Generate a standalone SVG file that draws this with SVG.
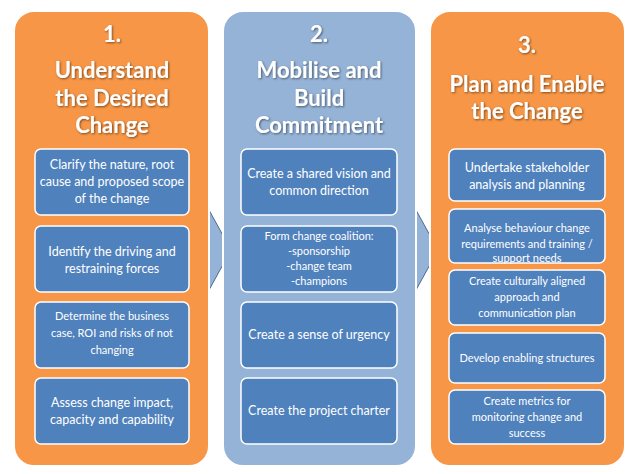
<svg xmlns="http://www.w3.org/2000/svg" width="639" height="474" viewBox="0 0 639 474">
<style>
.col1,.col3{fill:#f79646;stroke:#fff;stroke-width:2}
.col2{fill:#95b3d7;stroke:#fff;stroke-width:2}
.box{fill:#4f81bd;stroke:#fff;stroke-width:1.5}
.arrow{fill:#95b3d7;stroke:#4f6a8f;stroke-width:1}
.t{font-family:Lato,"Open Sans",sans-serif;font-weight:bold;font-size:22px;fill:#fff;text-anchor:middle}
.b{font-family:Lato,"Open Sans",sans-serif;font-size:12.5px;fill:#fff;text-anchor:middle}
.s{font-size:11px}
</style>
<defs><filter id="sh"><feDropShadow dx="1" dy="1" stdDeviation="0.8" flood-color="#000" flood-opacity="0.5"/></filter></defs>
<g id="connectors">
<polygon class="arrow" points="209,210 231,250 209,290"/>
<polygon class="arrow" points="416,210 438,250 416,290"/>
</g>
<g id="col1">
<rect class="col1" x="14" y="11" width="195" height="455" rx="20"/>
<g filter="url(#sh)"><text class="t" x="112" y="42">1.</text><text class="t" x="112" y="78">Understand</text><text class="t" x="112" y="106">the Desired</text><text class="t" x="112" y="133">Change</text></g>
</g>
<g id="col2">
<rect class="col2" x="223" y="11" width="193" height="455" rx="20"/>
<g filter="url(#sh)"><text class="t" x="319" y="42">2.</text><text class="t" x="319" y="78">Mobilise and</text><text class="t" x="319" y="106">Build</text><text class="t" x="319" y="133">Commitment</text></g>
</g>
<g id="col3">
<rect class="col3" x="430" y="11" width="195" height="455" rx="20"/>
<g filter="url(#sh)"><text class="t" x="527" y="53">3.</text><text class="t" x="527" y="92">Plan and Enable</text><text class="t" x="527" y="119">the Change</text></g>
</g>
<g id="c1b1"><rect class="box" x="35" y="149" width="154" height="66" rx="6"/><text class="b" x="112" y="169">Clarify the nature, root</text><text class="b" x="112" y="186">cause and proposed scope</text><text class="b" x="112" y="203">of the change</text></g>
<g id="c1b2"><rect class="box" x="35" y="226" width="154" height="66" rx="6"/><text class="b" x="112" y="256">Identify the driving and</text><text class="b" x="112" y="273">restraining forces</text></g>
<g id="c1b3"><rect class="box" x="35" y="302" width="154" height="66" rx="6"/><text class="b s" x="112" y="320">Determine the business</text><text class="b s" x="112" y="337">case, ROI and risks of not</text><text class="b s" x="112" y="354">changing</text></g>
<g id="c1b4"><rect class="box" x="35" y="378" width="154" height="66" rx="6"/><text class="b" x="112" y="407">Assess change impact,</text><text class="b" x="112" y="424">capacity and capability</text></g>
<g id="c2b1"><rect class="box" x="241" y="149" width="156" height="66" rx="6"/><text class="b" x="319" y="178">Create a shared vision and</text><text class="b" x="319" y="195">common direction</text></g>
<g id="c2b2"><rect class="box" x="241" y="226" width="156" height="66" rx="6"/><text class="b s" x="319" y="240">Form change coalition:</text><text class="b s" x="319" y="255">-sponsorship</text><text class="b s" x="319" y="270">-change team</text><text class="b s" x="319" y="285">-champions</text></g>
<g id="c2b3"><rect class="box" x="241" y="302" width="156" height="66" rx="6"/><text class="b" x="319" y="339">Create a sense of urgency</text></g>
<g id="c2b4"><rect class="box" x="241" y="378" width="156" height="66" rx="6"/><text class="b" x="319" y="415">Create the project charter</text></g>
<g id="c3b1"><rect class="box" x="449" y="149" width="156" height="52" rx="6"/><text class="b" x="527" y="172">Undertake stakeholder</text><text class="b" x="527" y="189">analysis and planning</text></g>
<g id="c3b2"><rect class="box" x="449" y="209" width="156" height="54" rx="6"/><text class="b s" x="527" y="232">Analyse behaviour change</text><text class="b s" x="527" y="248">requirements and training /</text><text class="b s" x="527" y="262">support needs</text></g>
<g id="c3b3"><rect class="box" x="449" y="270" width="156" height="55" rx="6"/><text class="b s" x="527" y="285">Create culturally aligned</text><text class="b s" x="527" y="301">approach and</text><text class="b s" x="527" y="317">communication plan</text></g>
<g id="c3b4"><rect class="box" x="449" y="333" width="156" height="50" rx="6"/><text class="b s" x="527" y="362">Develop enabling structures</text></g>
<g id="c3b5"><rect class="box" x="449" y="390" width="156" height="54" rx="6"/><text class="b s" x="527" y="405">Create metrics for</text><text class="b s" x="527" y="421">monitoring change and</text><text class="b s" x="527" y="437">success</text></g>
</svg>
